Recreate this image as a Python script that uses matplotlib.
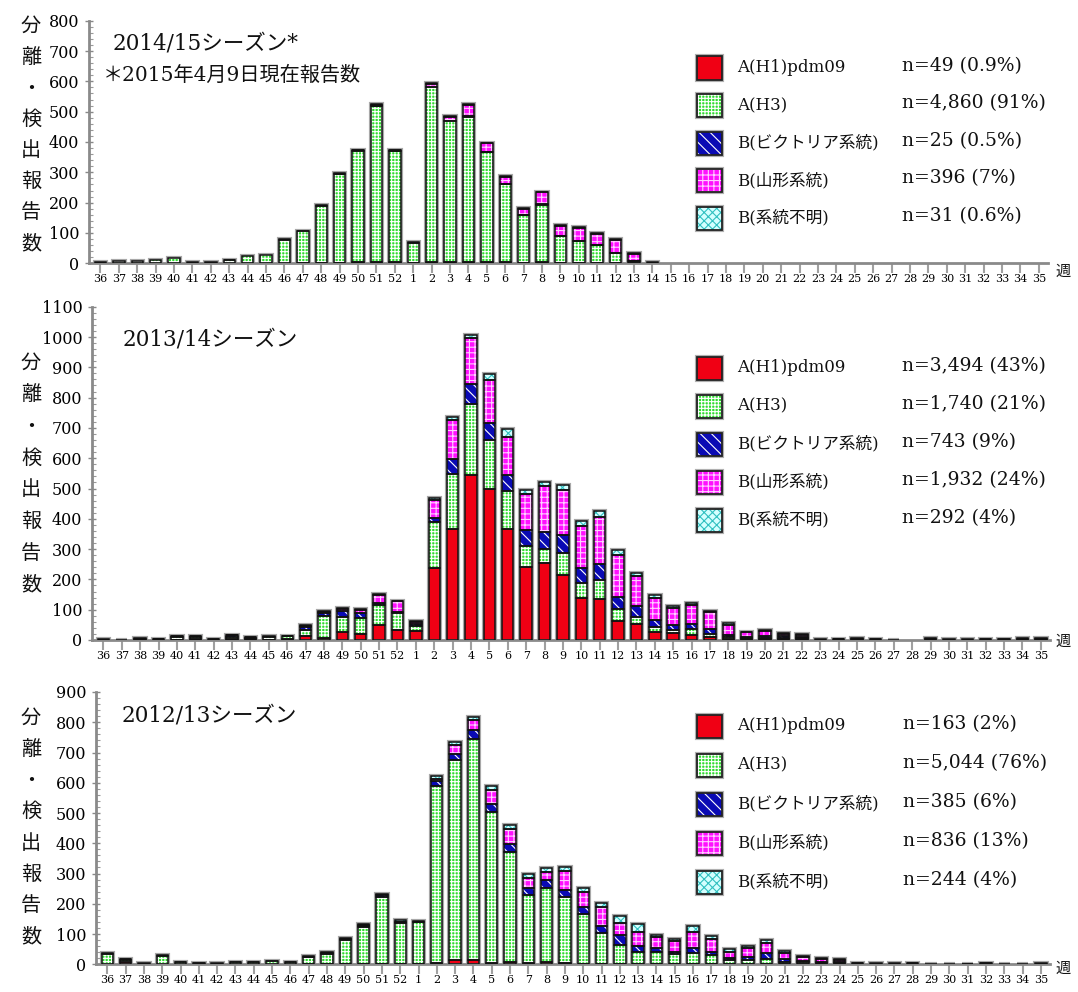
import numpy as np
import matplotlib.pyplot as plt
from matplotlib.patches import Rectangle
from matplotlib.ticker import MultipleLocator

plt.rcParams['font.family'] = ['DejaVu Serif', 'Noto Sans CJK JP']
plt.rcParams['hatch.linewidth'] = 0.8

W, H = 1078, 992

weeks = list(range(36, 53)) + list(range(1, 36))

types = ["A(H1)pdm09", "A(H3)", "B(ビクトリア系統)", "B(山形系統)", "B(系統不明)"]

# 2014/15 season (weeks 36..52, 1..35)
s1415_h1 = [0] * 11 + [1, 1, 2, 3, 4, 4] + [1, 3, 4, 5, 4, 3, 2, 3, 2, 2, 2, 1, 1, 1] + [0] * 21
s1415_h3 = ([4, 8, 7, 12, 16, 3, 3, 10, 24, 28, 78] + [106, 189, 292, 368, 514, 365]
            + [67, 580, 464, 478, 362, 258, 156, 189, 87, 70, 57, 32, 7, 1] + [0] * 21)
s1415_vic = ([0, 0, 0, 0, 0, 0, 0, 1, 0, 0, 1] + [0, 0, 0, 0, 2, 2]
             + [0, 0, 0, 2, 2, 2, 2, 2, 2, 2, 2, 2, 1, 0] + [0] * 21)
s1415_yam = ([0] * 11 + [1, 2, 2, 2, 2, 2]
             + [2, 9, 16, 38, 28, 23, 18, 40, 32, 43, 37, 42, 22, 1] + [0] * 21)
s1415_unk = ([0] * 11 + [0, 0, 2, 2, 2, 2]
             + [0, 1, 2, 2, 2, 2, 3, 2, 2, 3, 3, 2, 2, 0] + [0] * 21)
s1415_n = ["n=49 (0.9%)", "n=4,860 (91%)", "n=25 (0.5%)", "n=396 (7%)", "n=31 (0.6%)"]

# 2013/14 season
s1314_h1 = ([0, 0, 1, 0, 1, 2, 0, 3, 2, 1, 2]
            + [13, 8, 25, 20, 49, 33]
            + [30, 236, 366, 543, 497, 366, 241, 255, 214, 137, 134, 64, 52, 27, 22, 16, 11, 4, 2, 3, 2, 2]
            + [0, 1, 1, 0, 0, 0, 2, 0, 0, 0, 0, 2, 2])
s1314_h3 = ([1, 1, 3, 2, 10, 9, 2, 8, 6, 9, 10]
            + [20, 70, 52, 52, 66, 57]
            + [16, 152, 183, 237, 164, 126, 69, 44, 72, 52, 64, 38, 25, 17, 11, 19, 9, 5, 3, 4, 3, 3]
            + [1, 1, 1, 1, 1, 0, 1, 1, 1, 1, 1, 1, 1])
s1314_vic = ([0, 0, 0, 1, 0, 1, 0, 4, 1, 0, 0]
             + [10, 12, 18, 18, 7, 3]
             + [6, 15, 49, 65, 55, 51, 52, 58, 60, 47, 52, 39, 36, 22, 16, 18, 15, 7, 5, 6, 8, 6]
             + [1, 1, 2, 1, 0, 0, 1, 0, 0, 1, 1, 1, 1])
s1314_yam = ([0, 0, 0, 0, 1, 0, 0, 1, 0, 0, 1]
             + [3, 3, 7, 10, 26, 35]
             + [8, 58, 127, 151, 142, 128, 120, 152, 148, 140, 156, 138, 98, 73, 57, 63, 56, 35, 15, 17, 6, 6]
             + [0, 1, 1, 1, 0, 0, 1, 1, 1, 1, 1, 1, 1])
s1314_unk = ([1, 0, 1, 1, 1, 1, 1, 1, 1, 2, 1]
             + [4, 4, 3, 3, 3, 2]
             + [3, 9, 10, 9, 20, 24, 12, 12, 17, 17, 20, 17, 11, 9, 7, 7, 5, 4, 2, 3, 3, 3]
             + [0] * 13)
s1314_n = ["n=3,494 (43%)", "n=1,740 (21%)", "n=743 (9%)", "n=1,932 (24%)", "n=292 (4%)"]

# 2012/13 season
s1213_h1 = ([0, 6, 0, 0, 0, 0, 0, 0, 0, 0, 0]
            + [1, 1, 2, 1, 2, 2]
            + [1, 3, 14, 13, 3, 8, 4, 7, 3, 2, 1, 1, 1, 1, 1, 2, 2, 1, 1, 1, 1, 1, 1, 1]
            + [0] * 11)
s1213_h3 = ([35, 8, 1, 29, 7, 3, 2, 6, 7, 10, 7]
            + [22, 34, 78, 122, 222, 135]
            + [138, 585, 660, 733, 499, 362, 225, 246, 218, 164, 101, 63, 41, 41, 33, 36, 30, 12, 12, 15, 8, 5, 3, 3]
            + [1, 0, 1, 2, 0, 0, 0, 1, 0, 0, 0])
s1213_vic = ([0] * 11
             + [2, 4, 4, 3, 5, 2]
             + [0, 18, 20, 30, 27, 29, 22, 27, 24, 22, 24, 33, 18, 13, 8, 15, 10, 8, 12, 20, 10, 6, 5, 4]
             + [1, 1, 0, 0, 0, 0, 0, 0, 0, 0, 0])
s1213_yam = ([0, 2, 0, 0, 0, 0, 0, 0, 0, 0, 0]
             + [0, 0, 0, 3, 0, 2]
             + [2, 8, 30, 30, 46, 48, 33, 26, 64, 52, 62, 40, 48, 35, 34, 55, 40, 20, 28, 34, 20, 12, 8, 7]
             + [2, 1, 1, 2, 0, 0, 1, 2, 0, 0, 2])
s1213_unk = ([2, 2, 2, 3, 1, 2, 1, 1, 1, 2, 1]
             + [3, 3, 3, 3, 3, 5]
             + [3, 7, 11, 11, 13, 13, 14, 11, 13, 12, 13, 23, 25, 7, 6, 18, 13, 9, 9, 10, 6, 4, 3, 3]
             + [1, 1, 1, 1, 1, 1, 1, 1, 1, 1, 1])
s1213_n = ["n=163 (2%)", "n=5,044 (76%)", "n=385 (6%)", "n=836 (13%)", "n=244 (4%)"]

face_colors = ["#f00014", "#30dc30", "#0a0ab4", "#ff10ff", "#d4ffff"]
hatch_colors = ["#f00014", "white", "white", "#ffd0ff", "#30c0c0"]
hatches = [None, "+++++", "\\\\\\", "+++", "xxxx"]


def fx(x):
    return x / W


def fy(y):
    return 1 - y / H


def draw_panel(fig, box, series, ymax, title, legend_y, legend_dy, n_texts, n_x, label_y, week_y):
    left, top, right, bottom = box
    ax = fig.add_axes([fx(left), fy(bottom), fx(right - left), (bottom - top) / H])
    x = np.arange(len(weeks))
    width = 0.62
    totals = np.sum(np.array(series), axis=0)
    m = totals > 0
    ax.bar(x[m], totals[m], width=width, facecolor='none', edgecolor='#a8a8a8',
           linewidth=3, zorder=1)
    base = np.zeros(len(weeks))
    for k, vals in enumerate(series):
        vals = np.array(vals, dtype=float)
        m = vals > 0
        ax.bar(x[m], vals[m], bottom=base[m], width=width, facecolor=face_colors[k],
               hatch=hatches[k], edgecolor=hatch_colors[k], linewidth=0, zorder=2)
        ax.bar(x[m], vals[m], bottom=base[m], width=width, facecolor='none',
               edgecolor='#111111', linewidth=1.1, zorder=3)
        base += vals

    ax.set_xlim(-0.62, 51.5)
    ax.set_ylim(0, ymax)
    ax.set_xticks(x)
    ax.set_xticklabels([str(w) for w in weeks])
    ax.yaxis.set_major_locator(MultipleLocator(100))
    ax.yaxis.set_minor_locator(MultipleLocator(20))
    for s in ['top', 'right']:
        ax.spines[s].set_visible(False)
    for s in ['left', 'bottom']:
        ax.spines[s].set_color('#8a8a8a')
        ax.spines[s].set_linewidth(2)
    ax.tick_params(axis='x', length=7, width=1.5, color='#a0a0a0', labelsize=8, pad=1)
    ax.tick_params(axis='y', which='major', direction='inout', length=6, width=1,
                   color='#888888', labelsize=11.5, pad=4)
    ax.tick_params(axis='y', which='minor', direction='in', length=3, width=0.8,
                   color='#999999')
    ax.patch.set_alpha(0)

    # title
    for txt, tx, ty, fs in title:
        fig.text(fx(tx), fy(ty), txt, fontsize=fs, ha='left', va='center', color='#111111')

    # stacked y label
    chars = "分離・検出報告数"
    y0, y1 = label_y
    for i, ch in enumerate(chars):
        fig.text(fx(31), fy(y0 + (y1 - y0) * i / 7), ch, fontsize=14.5, ha='center',
                 va='center', family=['Noto Sans CJK JP'], color='#111111')

    fig.text(fx(1063), fy(week_y), "週", fontsize=11, ha='center', va='center',
             family=['Noto Sans CJK JP'], color='#111111')

    # legend
    for i in range(5):
        cy = legend_y + i * legend_dy
        rx, ry, rw, rh = 697, cy - 11.5, 25, 23
        fig.add_artist(Rectangle((fx(rx), fy(ry + rh)), fx(rw), rh / H, transform=fig.transFigure,
                                 facecolor='none', edgecolor='#b0b0b0', linewidth=3))
        fig.add_artist(Rectangle((fx(rx), fy(ry + rh)), fx(rw), rh / H, transform=fig.transFigure,
                                 facecolor=face_colors[i], hatch=hatches[i],
                                 edgecolor=hatch_colors[i], linewidth=0))
        fig.add_artist(Rectangle((fx(rx), fy(ry + rh)), fx(rw), rh / H, transform=fig.transFigure,
                                 facecolor='none', edgecolor='#222222', linewidth=1.3))
        fig.text(fx(737), fy(cy), types[i], fontsize=12, ha='left', va='center', color='#111111')
        fig.text(fx(n_x), fy(cy - 2), n_texts[i], fontsize=13.5, ha='left', va='center',
                 color='#111111')
    return ax


def main():
    fig = plt.figure(figsize=(W / 100, H / 100), dpi=100)

    draw_panel(fig, (89, 20.7, 1048, 263.3),
               [s1415_h1, s1415_h3, s1415_vic, s1415_yam, s1415_unk], 800,
               [("2014/15シーズン*", 113, 43, 15.5), ("＊2015年4月9日現在報告数", 103, 75, 14.5)],
               68, 37.5, s1415_n, 902, (26, 244), 271)

    draw_panel(fig, (92, 306.7, 1050, 640),
               [s1314_h1, s1314_h3, s1314_vic, s1314_yam, s1314_unk], 1100,
               [("2013/14シーズン", 123, 340, 15.5)],
               368, 38, s1314_n, 902, (363, 585), 641)

    draw_panel(fig, (96, 692, 1050, 964.3),
               [s1213_h1, s1213_h3, s1213_vic, s1213_yam, s1213_unk], 900,
               [("2012/13シーズン", 122, 716, 15.5)],
               726, 39, s1213_n, 903, (718, 937), 968)

    fig.savefig("out.png", dpi=100)


if __name__ == "__main__":
    main()
